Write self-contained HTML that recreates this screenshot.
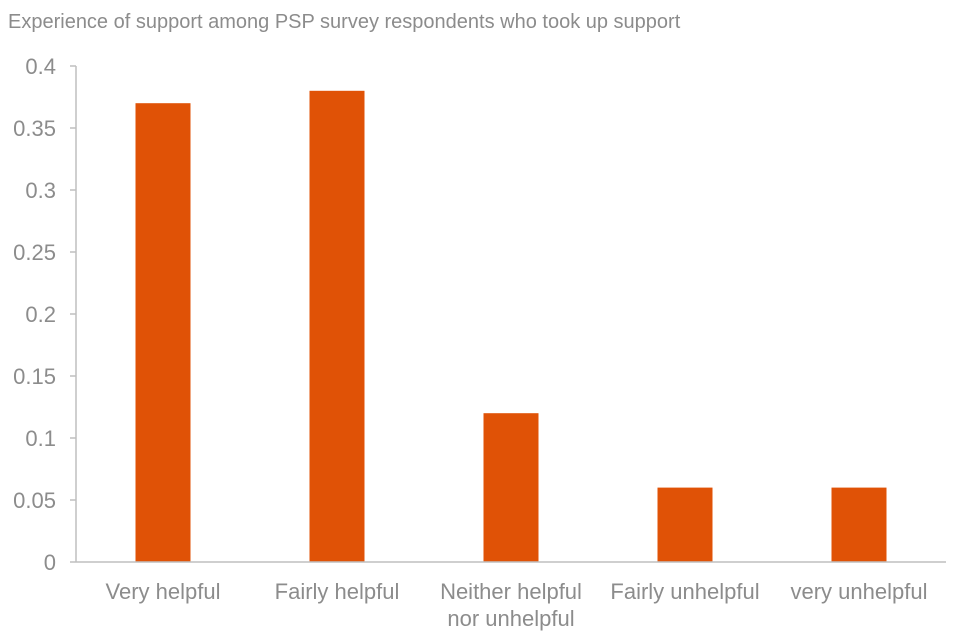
<!DOCTYPE html>
<html><head><meta charset="utf-8"><style>
body{margin:0;background:#fff;}
svg{display:block;font-family:"Liberation Sans",Arial,sans-serif;}
</style></head><body>
<svg id="chart" width="960" height="640" viewBox="0 0 960 640">
<text x="8" y="28" font-size="20" fill="#8c8c8c">Experience of support among PSP survey respondents who took up support</text>
<g id="yaxis"></g>
<g id="bars"></g>
<g id="xaxis"></g>
</svg>
<script>
const categories=[["Very helpful"],["Fairly helpful"],["Neither helpful","nor unhelpful"],["Fairly unhelpful"],["very unhelpful"]];
const values=[0.37,0.38,0.12,0.06,0.06];
const yTicks=[0,0.05,0.1,0.15,0.2,0.25,0.3,0.35,0.4];
const yTickLabels=["0","0.05","0.1","0.15","0.2","0.25","0.3","0.35","0.4"];
const NS="http://www.w3.org/2000/svg";
const x0=76,x1=946,y0=562,yTop=66,yMax=0.4;
const y=v=>y0-(v/yMax)*(y0-yTop);
const band=(x1-x0)/categories.length;
const xc=i=>x0+band*(i+0.5);
function mk(tag,attrs,parent){const e=document.createElementNS(NS,tag);for(const k in attrs)e.setAttribute(k,attrs[k]);parent.appendChild(e);return e;}
const ya=document.getElementById('yaxis'),xa=document.getElementById('xaxis'),bg=document.getElementById('bars');
const axl=mk('line',{x1:x0,y1:yTop,x2:x0,y2:y0,stroke:'#bfbfbf','stroke-width':1.5},ya);


yTicks.forEach((t,i)=>{
 const tk=mk('line',{x1:x0-6,y1:y(t),x2:x0,y2:y(t),stroke:'#bfbfbf','stroke-width':1.5},ya);
 
 
 const tx=mk('text',{x:56,y:y(t)+8,'text-anchor':'end','font-size':22,fill:'#8c8c8c'},ya);
 tx.textContent=yTickLabels[i];
 
 
});
values.forEach((v,i)=>{
 const r=mk('rect',{x:xc(i)-27.5,y:y(v),width:55,height:y0-y(v),fill:'#e05206'},bg);
 
 
});
const xl=mk('line',{x1:x0,y1:y0,x2:x1,y2:y0,stroke:'#bfbfbf','stroke-width':1.5},xa);


categories.forEach((c,i)=>{
 c.forEach((line,j)=>{
  const tx=mk('text',{x:xc(i),y:599+j*27,'text-anchor':'middle','font-size':22,fill:'#8c8c8c'},xa);
  tx.textContent=line;
  
  
 });
});
</script>
</body></html>
